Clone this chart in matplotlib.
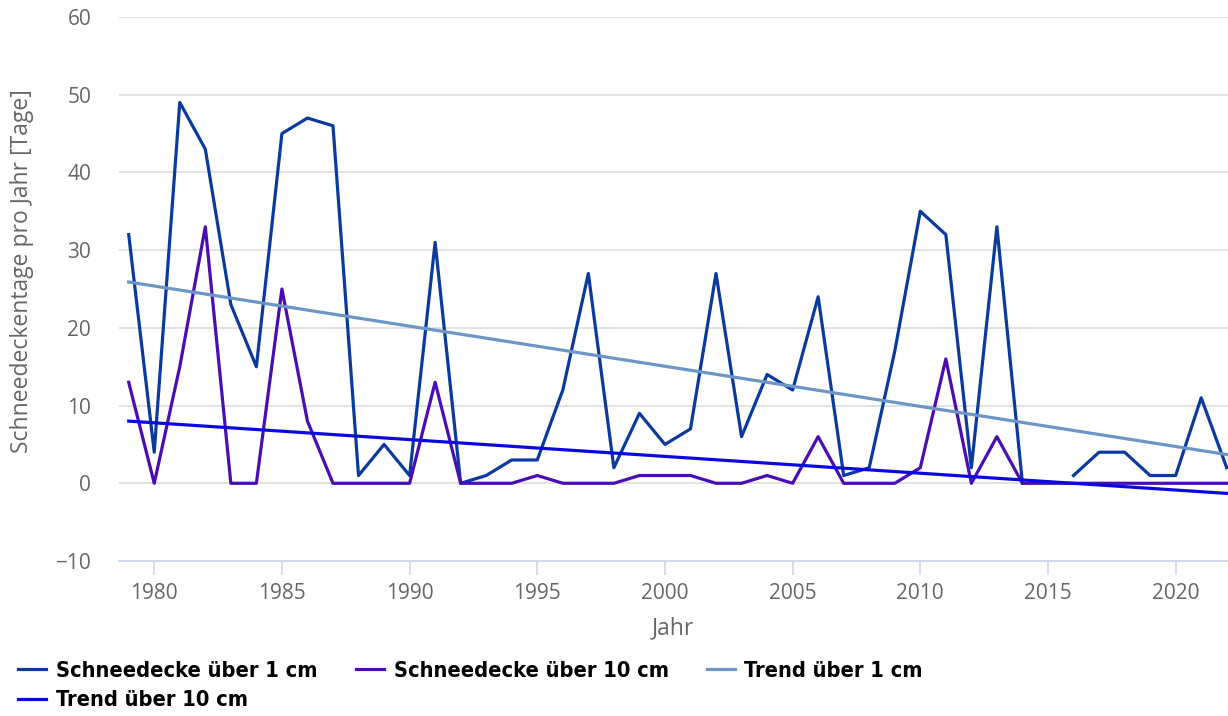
import numpy as np
import matplotlib.pyplot as plt
from matplotlib import font_manager as fm

years = list(range(1979, 2023))
ueber_1cm = [32, 4, 49, 43, 23, 15, 45, 47, 46, 1, 5, 1, 31, 0, 1, 3, 3, 12, 27, 2,
             9, 5, 7, 27, 6, 14, 12, 24, 1, 2, 17, 35, 32, 2, 33, 0, np.nan, 1, 4, 4,
             1, 1, 11, 2]
ueber_10cm = [13, 0, 15, 33, 0, 0, 25, 8, 0, 0, 0, 0, 13, 0, 0, 0, 1, 0, 0, 0,
              1, 1, 1, 0, 0, 1, 0, 6, 0, 0, 0, 2, 16, 0, 6, 0, 0, 0, 0, 0,
              0, 0, 0, 0]
trend_years = [1979, 2022]
trend_1cm = [25.9, 3.7]
trend_10cm = [8.0, -1.3]

gray = "#666666"
plt.rcParams['font.family'] = ['Open Sans', 'DejaVu Sans']

# condensed bold for the legend if there is one, else plain bold a bit smaller
cond = fm.FontProperties(family='DejaVu Sans', weight='bold', stretch='condensed')
if 'Condensed' in fm.findfont(cond):
    leg_prop = {'family': 'DejaVu Sans', 'weight': 'bold', 'stretch': 'condensed', 'size': 15.7}
else:
    leg_prop = {'family': 'DejaVu Sans', 'weight': 'bold', 'size': 13.5}
fs_px = leg_prop['size'] * 100 / 72

fig = plt.figure(figsize=(12.28, 7.16), dpi=100)
ax = fig.add_axes([119 / 1228, 155 / 716, 1 - 119 / 1228, (699 - 155) / 716])

l1, = ax.plot(years, ueber_1cm, color="#0b3a9e", lw=2.3, label="Schneedecke über 1 cm")
l2, = ax.plot(years, ueber_10cm, color="#4a0db3", lw=2.3, label="Schneedecke über 10 cm")
l3, = ax.plot(trend_years, trend_1cm, color="#6b96c5", lw=2.3, label="Trend über 1 cm")
l4, = ax.plot(trend_years, trend_10cm, color="#0a0ae0", lw=2.3, label="Trend über 10 cm")

ax.set_xlim(1978.62, 2022.05)
ax.set_ylim(-10, 60)
ax.set_yticks(range(-10, 61, 10))
ax.set_xticks(range(1980, 2021, 5))
ax.grid(axis='y', color="#dddddd", lw=1.2)
ax.set_axisbelow(True)
for s in ['top', 'right', 'left']:
    ax.spines[s].set_visible(False)
ax.spines['bottom'].set_color("#ccd6eb")
ax.spines['bottom'].set_linewidth(1.2)
ax.tick_params(axis='x', colors="#ccd6eb", length=10, width=1.2, labelcolor=gray,
               labelsize=15, pad=6)
ax.tick_params(axis='y', length=0, labelcolor=gray, labelsize=15, pad=20)

ax.set_xlabel("Jahr", color=gray, fontsize=16.5, labelpad=9)
fig.text(22 / 1228, 1 - 271 / 716, "Schneedeckentage pro Jahr [Tage]", color=gray,
         fontsize=16.5, rotation=90, ha='center', va='center')

fig.legend([l1, l4, l2, l3], [l1.get_label(), l4.get_label(), l2.get_label(), l3.get_label()],
           ncol=3, loc='upper left', bbox_to_anchor=(18 / 1228, 1 - 661 / 716), frameon=False,
           prop=leg_prop, handlelength=28 / fs_px, handletextpad=10 / fs_px,
           columnspacing=38 / fs_px, labelspacing=0.42, borderaxespad=0, borderpad=0)

fig.savefig("out.png", dpi=100)
